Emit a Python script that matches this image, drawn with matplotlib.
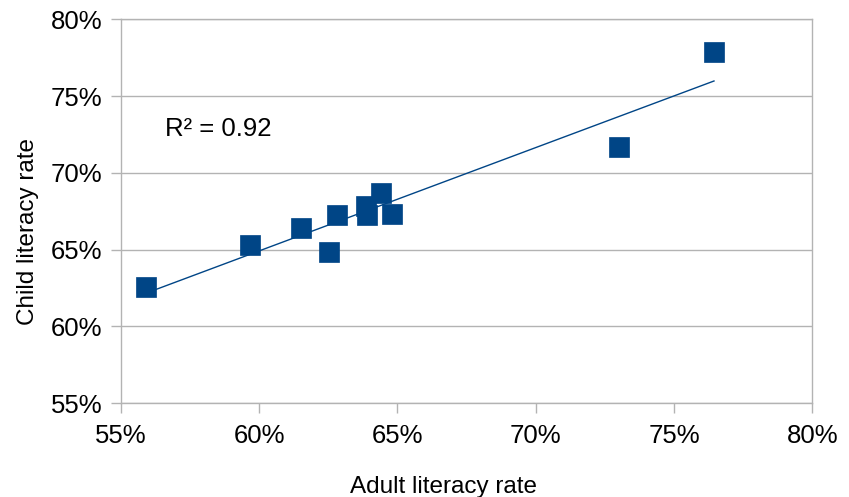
import matplotlib
matplotlib.use("Agg")
import matplotlib.pyplot as plt
import numpy as np
from matplotlib.ticker import FuncFormatter, MultipleLocator

plt.rcParams['font.family'] = ['Liberation Sans', 'DejaVu Sans']

adult = [55.90, 59.66, 61.51, 62.53, 62.80, 63.86, 63.90, 64.40, 64.81, 73.02, 76.44]
child = [62.53, 65.29, 66.41, 64.83, 67.24, 67.83, 67.24, 68.69, 67.35, 71.69, 77.85]
r2_label = "R² = 0.92"
x_label = "Adult literacy rate"
y_label = "Child literacy rate"

blue = "#004586"
grey = "#b3b3b3"

fig = plt.figure(figsize=(8.49, 4.97), dpi=100)
ax = fig.add_axes([0.1422, 0.1891, 0.957 - 0.1422, 0.9608 - 0.1891])

x = np.array(adult)
y = np.array(child)
slope, intercept = np.polyfit(x, y, 1)
xs = np.array([x.min(), x.max()])
ax.plot(xs, slope * xs + intercept, color=blue, lw=1.0, zorder=3)
ax.plot(x, y, linestyle='none', marker='s', ms=14, color=blue, mec=blue, mew=0.5, zorder=4)

ax.set_xlim(55, 80)
ax.set_ylim(55, 80)
ax.xaxis.set_major_locator(MultipleLocator(5))
ax.yaxis.set_major_locator(MultipleLocator(5))
fmt = FuncFormatter(lambda v, p: f"{v:.0f}%")
ax.xaxis.set_major_formatter(fmt)
ax.yaxis.set_major_formatter(fmt)

ax.grid(axis='y', color=grey, lw=1.0)
ax.set_axisbelow(True)
for s in ax.spines.values():
    s.set_color(grey)
    s.set_linewidth(1.0)
ax.tick_params(axis='both', direction='out', length=7, width=1.0, color=grey,
               labelsize=18.5, labelcolor='black')
ax.tick_params(axis='x', pad=8)
ax.tick_params(axis='y', pad=6)

ax.set_xlabel(x_label, fontsize=17.5, labelpad=20)
ax.set_ylabel(y_label, fontsize=17.5, labelpad=9)
ax.xaxis.label.set_x(0.467)
ax.yaxis.label.set_y(0.446)

ax.text(56.6, 72.84, r2_label, fontsize=18.5, va='center', ha='left')

fig.savefig("out.png", dpi=100)
